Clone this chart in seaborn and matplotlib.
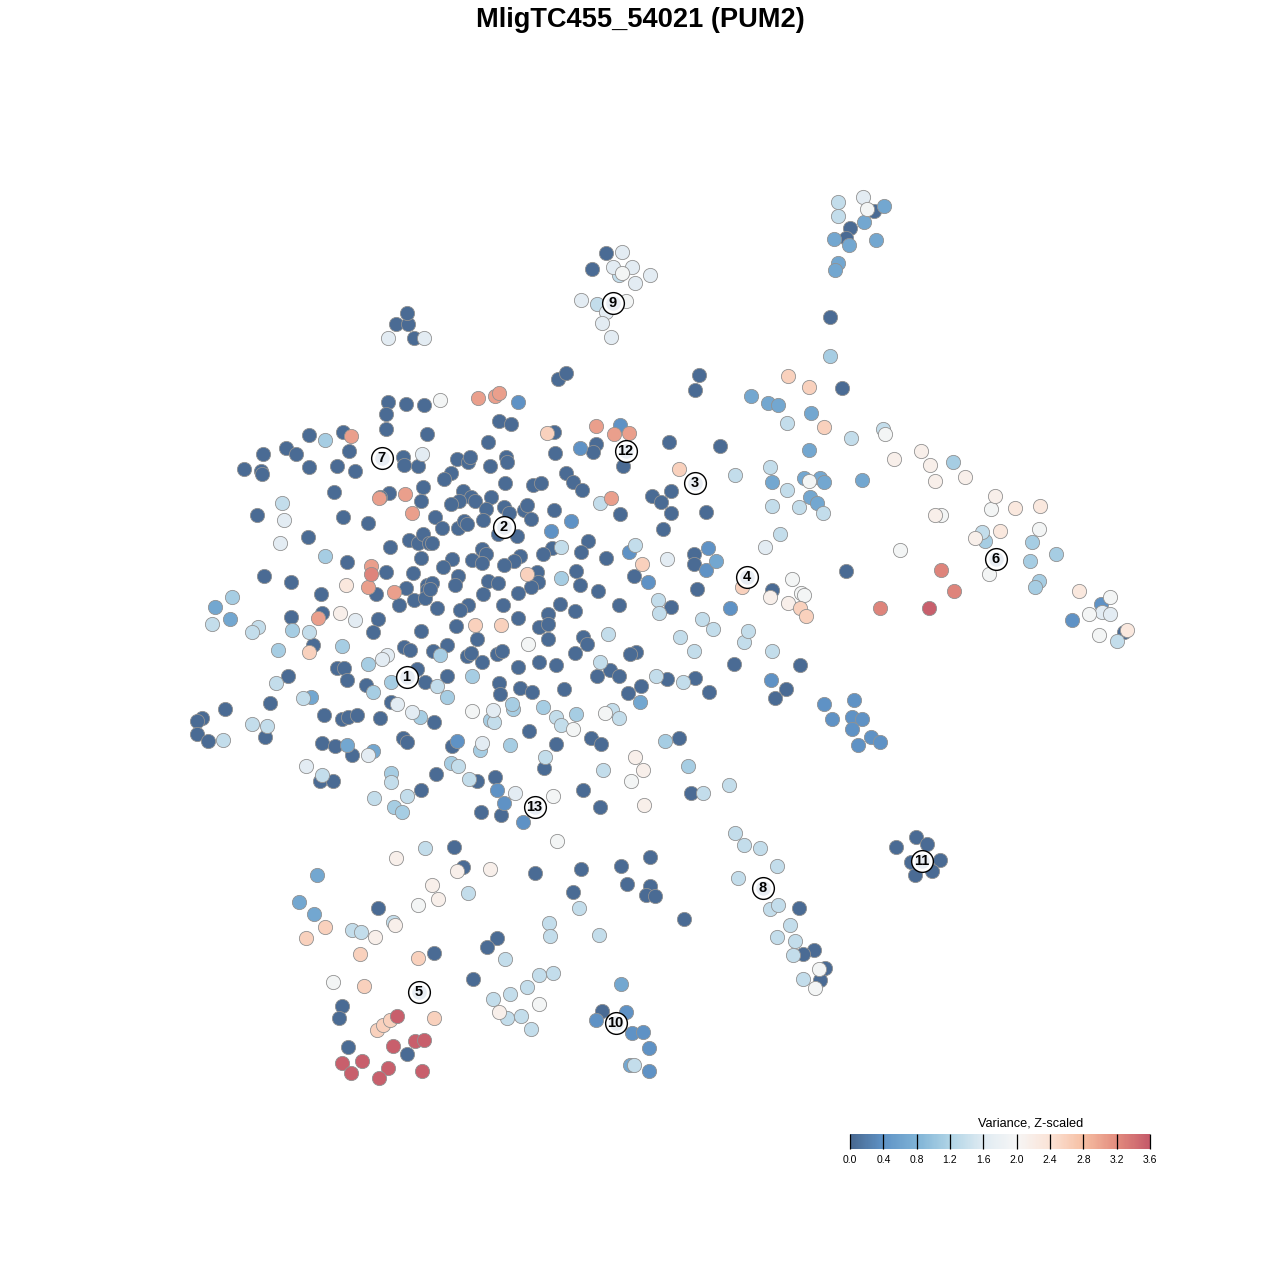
import matplotlib

matplotlib.use("Agg")
import matplotlib.pyplot as plt
import pandas as pd
import seaborn as sns
from matplotlib.cm import ScalarMappable
from matplotlib.colors import LinearSegmentedColormap, Normalize

# Embedding positions, grouped by variance level.
deep = [
    (388, 402), (406, 404), (424, 405), (386, 414), (386, 429), (427, 434), (309, 435), (343, 432),
    (349, 451), (286, 448), (296, 454), (263, 454), (244, 469), (261, 471), (262, 474), (309, 467),
    (337, 466), (355, 471), (403, 457), (404, 465), (418, 466), (334, 492), (389, 493), (380, 497),
    (423, 487), (421, 501), (257, 515), (343, 517), (368, 523), (308, 537), (409, 540), (418, 543),
    (423, 534), (429, 543), (390, 547), (421, 558), (347, 562), (386, 572), (413, 573), (264, 576),
    (291, 582), (321, 594), (376, 594), (406, 588), (427, 585), (427, 590), (414, 600), (425, 598),
    (399, 605), (322, 613), (291, 617), (378, 619),
    (558, 379), (566, 373), (499, 421), (511, 424), (554, 432), (488, 442), (669, 442), (596, 444),
    (593, 452), (555, 453), (457, 459), (468, 462), (470, 457), (506, 457), (507, 462), (490, 466),
    (623, 466), (566, 473), (451, 473), (444, 479), (573, 482), (505, 483), (533, 485), (541, 483),
    (582, 490), (463, 491), (471, 497), (459, 501), (451, 504), (475, 501), (491, 497), (486, 509),
    (504, 507), (509, 513), (524, 510), (527, 505), (531, 519), (554, 510), (620, 514), (652, 496),
    (661, 502), (671, 491), (671, 513), (663, 529), (435, 517), (442, 528), (458, 528), (464, 521),
    (467, 524), (483, 520), (498, 534), (517, 536), (432, 543), (588, 541), (581, 552), (552, 548),
    (543, 554), (606, 558), (482, 549), (486, 554), (472, 560), (482, 563), (452, 559), (443, 567),
    (520, 556), (514, 561), (504, 565), (576, 571), (537, 572), (538, 582), (531, 587), (458, 576),
    (455, 585), (488, 581), (498, 583), (580, 585), (634, 576), (598, 591), (518, 593), (483, 594),
    (432, 583), (430, 589), (560, 604), (619, 605), (575, 611), (548, 614), (503, 605), (468, 605),
    (460, 610), (437, 608), (518, 618), (671, 607),
    (456, 626), (539, 627), (548, 624), (477, 639), (548, 639), (447, 645), (433, 651), (583, 637),
    (587, 644), (575, 653), (636, 652), (630, 654), (467, 656), (471, 653), (482, 662), (497, 654),
    (502, 651), (518, 667), (539, 662), (556, 665), (610, 670), (597, 676), (619, 676), (447, 676),
    (667, 679), (641, 686), (628, 693), (499, 683), (500, 694), (520, 688), (532, 692), (564, 689),
    (434, 722), (529, 731), (591, 738), (601, 744), (556, 744), (452, 746), (544, 768), (436, 774),
    (477, 781), (495, 777), (583, 790), (600, 807), (481, 812), (501, 815), (454, 847), (650, 857),
    (373, 632), (421, 631), (313, 645), (404, 647), (410, 650), (337, 668), (344, 668), (347, 680),
    (288, 676), (417, 669), (366, 685), (425, 682), (270, 703), (391, 702), (225, 709), (202, 718),
    (197, 721), (197, 734), (208, 741), (265, 737), (324, 715), (342, 719), (348, 717), (357, 715),
    (380, 718), (322, 743), (335, 746), (352, 755), (403, 738), (407, 742), (320, 781), (333, 781),
    (421, 790),
    (699, 375), (695, 390), (842, 388), (720, 446), (830, 317), (706, 512), (694, 554), (694, 564),
    (697, 589), (734, 664), (800, 665), (786, 689), (846, 571), (772, 590), (695, 678), (679, 738),
    (691, 793), (709, 692), (775, 698),
    (606, 253), (592, 269), (874, 211), (850, 228), (846, 238), (396, 324), (408, 324), (407, 313),
    (414, 338),
    (463, 867), (581, 869), (535, 873), (621, 866), (627, 884), (650, 886), (646, 895), (655, 896),
    (573, 892), (684, 919), (497, 938), (487, 947), (434, 953), (473, 979), (378, 908), (342, 1006),
    (339, 1018), (602, 1011), (348, 1047), (407, 1054), (799, 908), (814, 950), (803, 954), (825, 968),
    (820, 980), (896, 847), (916, 837), (927, 844), (940, 860), (911, 862), (932, 871), (915, 875),
    (1124, 632),
]
mid = [
    (518, 402), (620, 425), (580, 448), (571, 521), (551, 531), (629, 552), (457, 741), (497, 790),
    (504, 803), (523, 822), (1072, 620), (1101, 604), (706, 570), (708, 548), (648, 582), (730, 608),
    (771, 680), (824, 704), (854, 700), (832, 719), (852, 717), (862, 719), (852, 729), (871, 737),
    (880, 742), (858, 745), (596, 1020), (632, 1033), (643, 1032), (649, 1048), (649, 1071), (626, 1012),
]
blue = [
    (215, 607), (230, 619), (311, 697), (347, 745), (373, 751), (640, 702), (716, 561), (751, 396),
    (768, 403), (778, 405), (811, 413), (809, 450), (772, 482), (804, 478), (820, 478), (824, 482),
    (862, 480), (810, 497), (817, 503), (884, 206), (864, 222), (834, 239), (849, 245), (876, 240),
    (838, 263), (835, 270), (317, 875), (299, 902), (314, 914), (621, 984), (630, 1065),
]
light = [
    (325, 440), (325, 556), (232, 597), (278, 650), (292, 630), (342, 646), (368, 664), (391, 682),
    (373, 692), (440, 655), (472, 676), (447, 697), (513, 709), (512, 704), (490, 720), (510, 745),
    (480, 750), (451, 763), (576, 714), (543, 707), (665, 741), (420, 717), (391, 773), (394, 807),
    (402, 812), (561, 578), (830, 356), (985, 541), (1032, 542), (1056, 554), (1030, 561), (1039, 581),
    (1035, 587), (953, 462), (688, 766),
]
pale = [
    (282, 503), (600, 503), (561, 547), (635, 545), (658, 600), (659, 613), (212, 624), (258, 627),
    (252, 632), (309, 632), (276, 683), (303, 698), (252, 724), (267, 726), (223, 740), (322, 775),
    (391, 782), (407, 796), (374, 798), (425, 848), (608, 634), (600, 662), (656, 676), (437, 686),
    (556, 717), (561, 725), (612, 710), (619, 718), (545, 757), (603, 770), (458, 766), (469, 779),
    (494, 722), (982, 532), (883, 429), (729, 785), (703, 793), (549, 923), (550, 936), (553, 973),
    (539, 975), (527, 987), (510, 994), (493, 999), (507, 1018), (521, 1016), (531, 1029), (579, 908),
    (468, 893), (505, 959), (599, 935), (777, 866), (760, 848), (744, 845), (735, 833), (738, 878),
    (770, 909), (778, 905), (790, 925), (795, 941), (777, 937), (793, 955), (772, 506), (787, 490),
    (744, 642), (748, 631), (713, 629), (702, 619), (680, 637), (694, 651), (772, 651), (683, 682),
    (787, 423), (851, 438), (770, 467), (735, 475), (799, 507), (823, 513), (780, 534), (838, 202),
    (838, 216), (1117, 641), (352, 930), (361, 932), (393, 922), (803, 979), (634, 1065), (597, 304),
    (619, 275),
]
paler = [
    (422, 454), (284, 520), (280, 543), (667, 559), (355, 620), (387, 655), (382, 659), (397, 704),
    (412, 712), (368, 755), (306, 766), (493, 710), (482, 743), (515, 793), (765, 547), (863, 197),
    (622, 252), (613, 267), (632, 267), (650, 275), (635, 283), (581, 300), (606, 312), (602, 323),
    (611, 337), (388, 338), (424, 338), (1102, 612), (1110, 614),
]
white = [
    (440, 400), (528, 644), (472, 711), (573, 729), (605, 713), (631, 781), (553, 796), (557, 841),
    (809, 481), (792, 579), (801, 593), (804, 595), (941, 515), (991, 509), (1039, 529), (900, 550),
    (989, 574), (1110, 597), (1089, 614), (1099, 635), (867, 209), (622, 273), (626, 301), (418, 905),
    (333, 982), (539, 1004), (819, 969), (815, 988), (885, 434),
]
cream = [
    (340, 613), (635, 757), (643, 770), (644, 805), (396, 858), (490, 869), (457, 871), (432, 885),
    (438, 899), (395, 925), (375, 937), (499, 1012), (894, 459), (921, 451), (930, 465), (935, 481),
    (965, 477), (995, 496), (935, 515), (975, 538), (770, 597), (788, 603),
]
blush = [(346, 585), (1015, 508), (1040, 506), (1000, 531), (1079, 591), (1127, 630)]
peach = [
    (547, 433), (642, 564), (527, 574), (309, 652), (475, 625), (501, 625), (679, 469), (788, 376),
    (809, 387), (824, 427), (742, 587), (800, 608), (806, 616), (306, 938), (325, 927), (360, 954),
    (418, 958), (364, 986), (434, 1018), (377, 1030), (383, 1025), (390, 1020),
]
salmon = [
    (351, 436), (379, 498), (405, 494), (412, 513), (371, 566), (368, 587), (394, 592), (318, 618),
    (478, 398), (495, 396), (499, 393), (596, 426), (614, 434), (629, 433), (611, 498),
]
rose = [(371, 574), (941, 570), (954, 591), (880, 608)]
crimson = [
    (929, 608), (397, 1016), (393, 1046), (415, 1041), (424, 1040), (362, 1061), (342, 1063), (351, 1073),
    (388, 1068), (379, 1078), (422, 1071),
]

level_points = [deep, mid, blue, light, pale, paler, white, cream, blush, peach, salmon, rose, crimson]
level_values = [0.03, 0.4, 0.65, 1.12, 1.35, 1.65, 1.95, 2.15, 2.3, 2.6, 3.05, 3.25, 3.55]

cluster_labels = ["1", "2", "3", "4", "5", "6", "7", "8", "9", "10", "11", "12", "13"]
cluster_x = [406, 503, 694, 746, 418, 995, 381, 762, 612, 615, 921, 625, 534]
cluster_y = [676, 526, 482, 576, 991, 558, 457, 887, 302, 1022, 860, 450, 806]

scale_ticks = [0.0, 0.4, 0.8, 1.2, 1.6, 2.0, 2.4, 2.8, 3.2, 3.6]
scale_colors = ["#486890", "#5f93c6", "#7fb3d6", "#b0d4e6", "#e0ebf2", "#f6f6f6", "#fbe3d6", "#f6bfa3", "#e38c7e", "#c55a6a"]


def main() -> None:
    sns.set_theme(style="white")
    plt.rcParams["font.family"] = ["Liberation Sans", "DejaVu Sans"]

    rows = []
    for points, value in zip(level_points, level_values):
        rows.extend({"tsne_1": x, "tsne_2": y, "variance": value} for x, y in points)
    df = pd.DataFrame(rows)

    cmap = LinearSegmentedColormap.from_list("variance", scale_colors)
    norm = Normalize(scale_ticks[0], scale_ticks[-1])

    fig = plt.figure(figsize=(12.8, 12.8), dpi=100)
    ax = fig.add_axes([0, 0, 1, 1])
    sns.scatterplot(
        data=df,
        x="tsne_1",
        y="tsne_2",
        hue="variance",
        palette=cmap,
        hue_norm=norm,
        s=105,
        edgecolor="#929292",
        linewidth=0.6,
        legend=False,
        ax=ax,
    )
    ax.set_xlim(-0.5, 1279.5)
    ax.set_ylim(1279.5, -0.5)
    ax.axis("off")

    # Numbered cluster badges: white disc, faint inner disc, bold number.
    ax.scatter(cluster_x, cluster_y, s=245, c="white", edgecolors="black", linewidths=1.0, zorder=5)
    ax.scatter(cluster_x, cluster_y, s=110, c="#e9eef4", linewidths=0, zorder=6)
    for label, x, y in zip(cluster_labels, cluster_x, cluster_y):
        ax.text(x, y + 0.5, label, ha="center", va="center", fontsize=10.5, fontweight="bold", color="black", zorder=7)

    fig.text(640 / 1280, 1 - 20 / 1280, "MligTC455_54021 (PUM2)", ha="center", va="center", fontsize=19.6, fontweight="bold", color="black")

    # Colour scale at the bottom right, ticks drawn across the bar.
    cax = fig.add_axes([850 / 1280, 1 - 1149 / 1280, 300 / 1280, 15 / 1280])
    cbar = fig.colorbar(ScalarMappable(norm=norm, cmap=cmap), cax=cax, orientation="horizontal")
    cbar.set_ticks(scale_ticks, labels=[f"{t:.1f}" for t in scale_ticks])
    cbar.outline.set_visible(False)
    cax.set_axisbelow(False)
    cax.tick_params(axis="x", direction="in", length=10.8, width=0.9, color="black", labelsize=7.5, pad=4, labelcolor="black")
    fig.text(1031 / 1280, 1 - 1123 / 1280, "Variance, Z-scaled", ha="center", va="center", fontsize=9.2, color="black")

    fig.savefig("out.png", dpi=100)
    plt.close(fig)


if __name__ == "__main__":
    main()
